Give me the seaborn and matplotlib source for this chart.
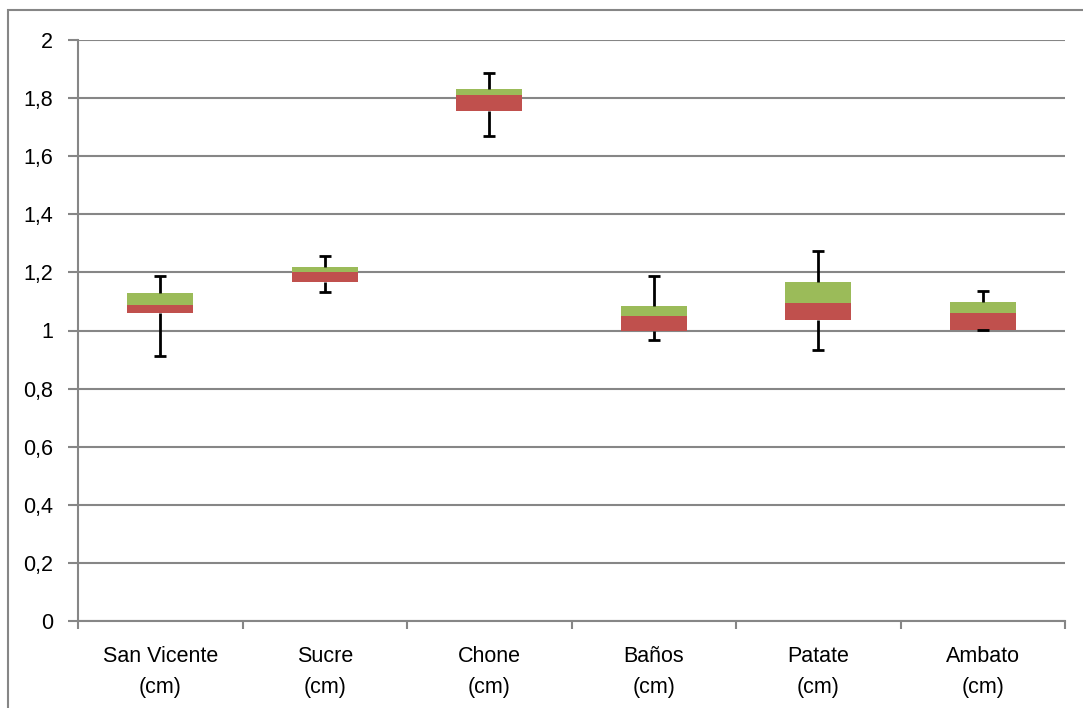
import numpy as np
import pandas as pd
import matplotlib
matplotlib.use("Agg")
import matplotlib.pyplot as plt
from matplotlib.patches import Rectangle
from matplotlib.ticker import FuncFormatter, FixedLocator
import seaborn as sns

# values
sites = ["San Vicente\n(cm)", "Sucre\n(cm)", "Chone\n(cm)", "Baños\n(cm)", "Patate\n(cm)", "Ambato\n(cm)"]
whisker_low = [0.911, 1.133, 1.671, 0.966, 0.932, 1.003]
q1 = [1.061, 1.166, 1.754, 0.998, 1.037, 1.003]
median = [1.087, 1.203, 1.812, 1.050, 1.095, 1.059]
q3 = [1.130, 1.219, 1.833, 1.084, 1.167, 1.099]
whisker_high = [1.187, 1.255, 1.887, 1.187, 1.273, 1.137]

df = pd.DataFrame({"site": sites, "wlo": whisker_low, "q1": q1, "med": median,
                   "q3": q3, "whi": whisker_high})
df["lower"] = df["med"] - df["q1"]
df["upper"] = df["q3"] - df["med"]

sns.set_style("white")
plt.rcParams["font.family"] = ["Liberation Sans", "DejaVu Sans"]
plt.rcParams["text.color"] = "black"
plt.rcParams["xtick.color"] = "black"
plt.rcParams["ytick.color"] = "black"

fig = plt.figure(figsize=(10.83, 7.08), dpi=100)
ax = fig.add_axes([78 / 1083, 1 - 621 / 708, (1065 - 78) / 1083, (621 - 40) / 708])

grid_col = "#868686"
ax.set_axisbelow(True)
ax.yaxis.grid(True, color=grid_col, lw=1.5)

# stacked boxes: red Q1->median, green median->Q3
sns.barplot(data=df, x="site", y="lower", bottom=df["q1"].values, color="#C0504D",
            saturation=1, width=0.4, ax=ax, linewidth=0)
sns.barplot(data=df, x="site", y="upper", bottom=df["med"].values, color="#9BBB59",
            saturation=1, width=0.4, ax=ax, linewidth=0)

# whiskers with caps only on the outer ends
pos = np.arange(len(sites))
cap = 0.037
wkw = dict(color="black", lw=2, zorder=3)
ax.vlines(pos, df["q3"], df["whi"], **wkw)
ax.vlines(pos, df["wlo"], df["q1"], **wkw)
ax.hlines(df["whi"], pos - cap, pos + cap, **wkw)
ax.hlines(df["wlo"], pos - cap, pos + cap, **wkw)

ax.set_ylim(0, 2)
ax.set_xlim(-0.5, len(sites) - 0.5)
ax.set_yticks(np.arange(0, 2.01, 0.2))
ax.yaxis.set_major_formatter(FuncFormatter(lambda v, p: f"{v:g}".replace(".", ",")))
ax.set_xlabel("")
ax.set_ylabel("")
for lbl in ax.get_xticklabels():
    lbl.set_linespacing(1.6)

for s in ["top", "right"]:
    ax.spines[s].set_visible(False)
for s in ["left", "bottom"]:
    ax.spines[s].set_color(grid_col)
    ax.spines[s].set_linewidth(1.5)

ax.tick_params(axis="y", which="major", direction="out", length=7, width=1.5,
               color=grid_col, labelsize=15.5, pad=11, left=True, labelcolor="black")
ax.tick_params(axis="x", which="major", length=0, labelsize=15.5, pad=18, labelcolor="black")
ax.xaxis.set_minor_locator(FixedLocator(np.arange(-0.5, len(sites), 1.0)))
ax.tick_params(axis="x", which="minor", direction="out", length=6, width=1.5,
               color=grid_col, bottom=True)

# outer chart border
fig.patches.append(Rectangle((8 / 1083, -0.1), 1.2, 1.1 - 10 / 708, transform=fig.transFigure,
                             fill=False, edgecolor=grid_col, lw=1.5, clip_on=False))

fig.savefig("out.png", dpi=100)
